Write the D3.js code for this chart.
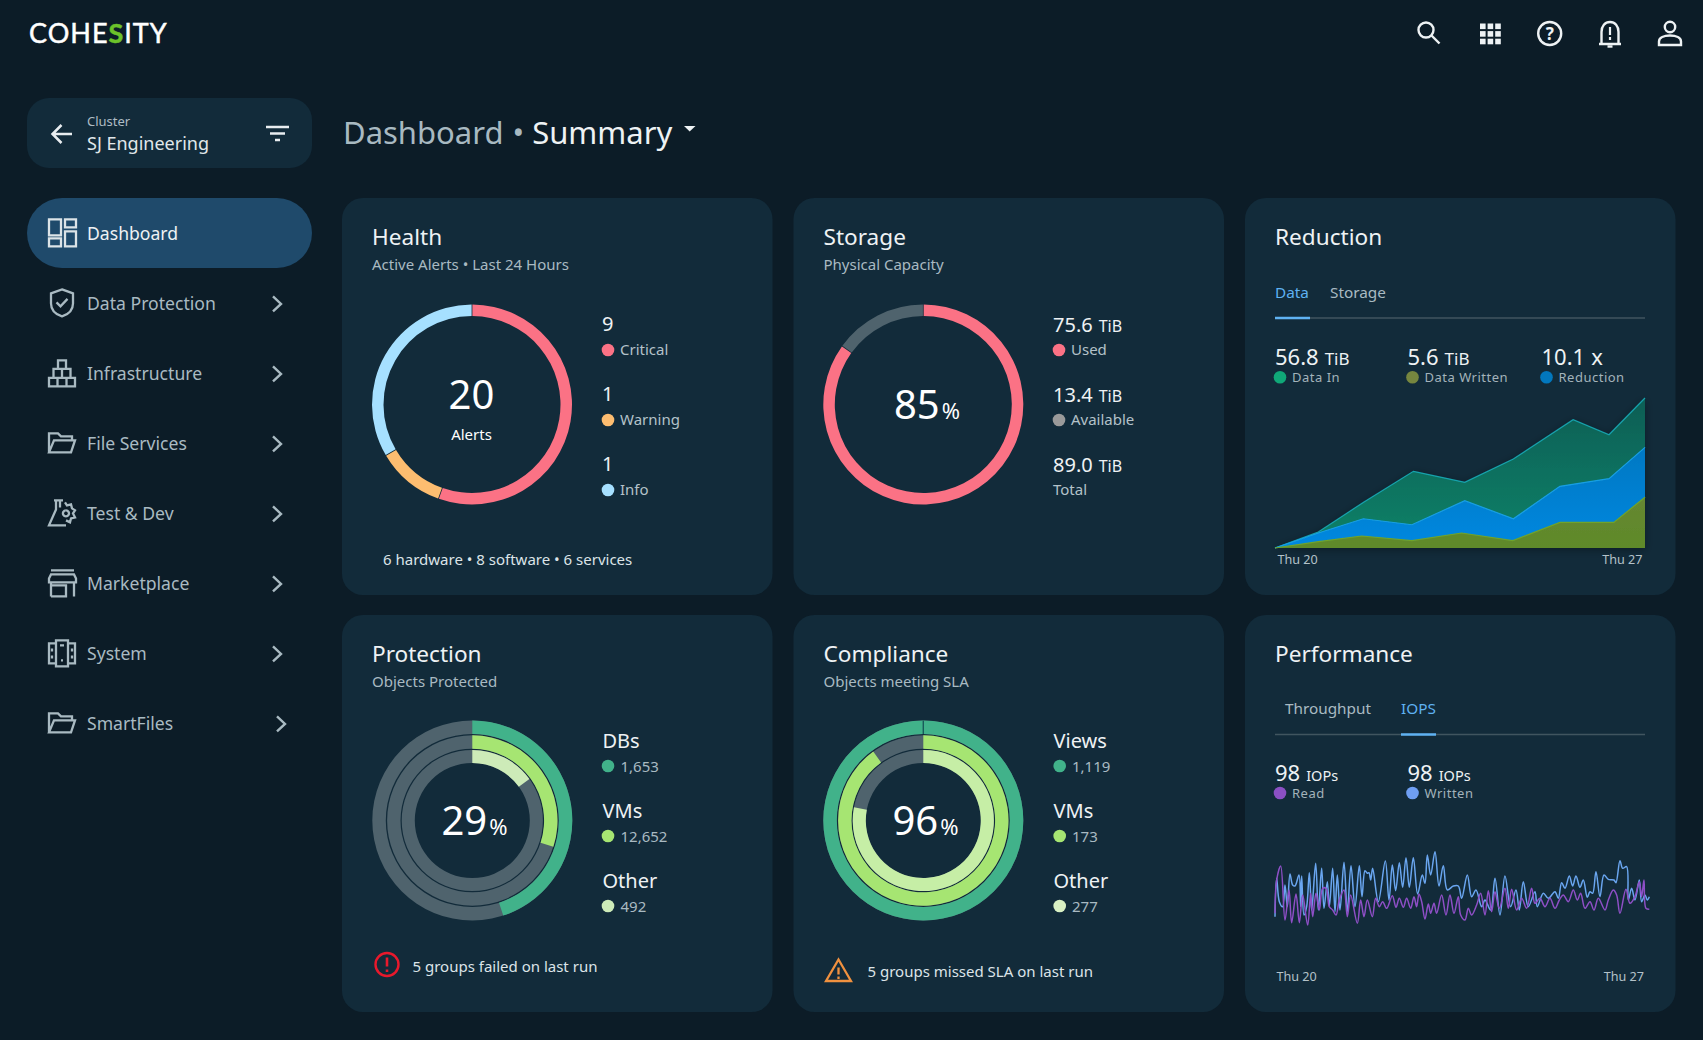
<!DOCTYPE html>
<html>
<head>
<meta charset="utf-8">
<title>Dashboard Summary</title>
<script src="https://cdn.jsdelivr.net/npm/d3@7"></script>
<style>
  html, body { margin: 0; padding: 0; background: #0c1c27; overflow: hidden; }
  text { font-family: "Noto Sans", sans-serif; }
</style>
</head>
<body>
<svg id="page" width="1703" height="1040"></svg>
<script>
// card contents
var navItems = ["Dashboard", "Data Protection", "Infrastructure", "File Services", "Test & Dev", "Marketplace", "System", "SmartFiles"]

var healthLabels = ["Critical", "Warning", "Info"]
var healthCounts = ["9", "1", "1"]
var healthShares = [55.5, 11, 33.5]

var storageLabels = ["Used", "Available", "Total"]
var storageValues = ["75.6", "13.4", "89.0"]
var storageShares = [85, 15]

var protectionLabels = ["DBs", "VMs", "Other"]
var protectionCounts = ["1,653", "12,652", "492"]
var protectionPercents = [45, 30, 15]

var complianceLabels = ["Views", "VMs", "Other"]
var complianceCounts = ["1,119", "173", "277"]
var compliancePercents = [100, 90, 78]

// reduction chart, day of week vs percent of the peak
var dataInDays = [0, 0.82, 1.67, 2.62, 3.59, 4.51, 5.64, 6.32, 7]
var dataInValues = [0, 10.7, 30.4, 51.1, 43.8, 59.3, 85.5, 75.5, 100]
var reductionDays = [0, 0.82, 1.67, 2.59, 3.59, 4.51, 5.39, 6.32, 7]
var reductionValues = [0, 10, 19.5, 15.5, 31.5, 19.5, 41.1, 46.2, 67.1]
var writtenDays = [0, 0.82, 1.64, 2.59, 3.53, 4.5, 5.39, 6.41, 7]
var writtenValues = [0, 4.2, 8, 4.9, 10, 4.9, 17.1, 17.1, 33.8]

// performance chart, sample number vs IOPs
var writtenIopsSamples = [0, 5, 13, 23, 30, 37, 45, 53, 60, 72, 77, 80, 87, 95, 103, 110, 122, 130, 140, 147, 157, 163, 173, 180, 187, 195, 207, 217, 228, 240, 253, 261, 270, 277, 282, 287, 293, 310, 331, 342, 352, 362, 373, 383, 393, 403, 415, 428, 442, 450, 457, 467, 480, 492, 505, 517, 535, 550, 560, 577, 590, 603, 620, 630, 647, 660, 675, 690, 707, 723, 733, 745, 760, 780, 787, 805, 820, 840, 850, 860, 870, 883, 893, 903, 915, 925, 937, 945, 953, 963, 975, 987, 1000, 1017, 1023, 1035, 1043, 1055, 1060, 1070, 1080, 1093, 1100, 1110, 1117, 1123]
var writtenIops = [100, 215, 145, 130, 195, 130, 228, 195, 192, 225, 130, 222, 105, 130, 232, 120, 260, 120, 245, 125, 205, 130, 245, 115, 225, 120, 263, 115, 253, 130, 253, 160, 238, 230, 232, 210, 245, 145, 267, 150, 255, 178, 262, 188, 277, 188, 277, 168, 225, 200, 285, 225, 295, 192, 253, 180, 192, 192, 155, 225, 160, 180, 130, 150, 120, 215, 105, 222, 130, 180, 120, 205, 130, 175, 130, 170, 155, 175, 155, 202, 185, 222, 192, 222, 188, 210, 158, 175, 170, 235, 160, 225, 212, 210, 202, 268, 245, 250, 150, 185, 150, 210, 145, 165, 150, 160]
var readIopsSamples = [0, 5, 17, 30, 42, 50, 63, 73, 83, 98, 107, 113, 123, 133, 143, 153, 163, 173, 183, 193, 207, 217, 227, 247, 257, 267, 277, 292, 302, 313, 323, 335, 352, 363, 373, 385, 395, 407, 417, 425, 432, 440, 450, 460, 467, 477, 485, 500, 513, 525, 537, 550, 557, 570, 580, 590, 605, 617, 630, 640, 650, 660, 673, 690, 700, 710, 725, 740, 755, 770, 780, 795, 810, 825, 840, 853, 865, 880, 895, 907, 917, 930, 945, 957, 970, 990, 1000, 1015, 1025, 1035, 1053, 1065, 1080, 1093, 1100, 1107, 1113, 1123]
var readIops = [110, 210, 252, 90, 180, 82, 168, 82, 165, 75, 170, 100, 170, 120, 185, 185, 130, 120, 105, 150, 180, 100, 165, 80, 150, 100, 150, 100, 155, 130, 145, 125, 163, 128, 155, 128, 155, 125, 160, 130, 168, 145, 93, 138, 110, 140, 110, 165, 105, 165, 110, 160, 105, 90, 125, 105, 135, 170, 105, 178, 115, 175, 125, 185, 125, 182, 120, 155, 125, 185, 140, 155, 130, 155, 125, 150, 165, 145, 180, 150, 170, 125, 145, 120, 155, 120, 150, 180, 165, 110, 182, 140, 160, 205, 160, 210, 125, 122]

var cardFill = "#122b3a"
var trackGrey = "#4f636d"
var ringGreen = "#41b28a"
var ringLime = "#a6e572"
var ringPale = "#cdebb8"

var svg = d3.select("#page")
var defs = svg.append("defs")

function addText(parent, x, y, str, size, fill, anchor){
  return parent.append("text")
    .attr("x", x)
    .attr("y", y)
    .attr("font-size", size)
    .attr("fill", fill)
    .attr("text-anchor", anchor || "start")
    .text(str)
}

function addValueUnit(parent, x, y, value, unit, size, unitSize, fill, anchor){
  var t = addText(parent, x, y, value, size, fill, anchor)
  t.append("tspan").attr("font-size", unitSize).attr("dx", unit == "%" ? 2 : 6).text(unit)
  return t
}

function addDot(parent, x, y, fill){
  parent.append("circle").attr("cx", x).attr("cy", y).attr("r", 6.3).attr("fill", fill)
}

/* ---------- header ---------- */
var logo = addText(svg, 29, 42.5, "COHE", 27, "#ffffff")
  .attr("style", "font-family:Lato;letter-spacing:1px")
  .attr("stroke", "#ffffff").attr("stroke-width", 0.5)
logo.append("tspan").attr("fill", "#6cc22a").attr("stroke", "#6cc22a").attr("font-weight", "bold").text("S")
logo.append("tspan").text("ITY")

var iconColor = "#eef2f4"
var topIcons = svg.append("g").attr("fill", "none").attr("stroke", iconColor).attr("stroke-width", 2.4)
topIcons.append("circle").attr("cx", 1426).attr("cy", 30).attr("r", 7.5)
topIcons.append("path").attr("d", "M1431.5 35.5L1439.5 43.5")

d3.range(3).forEach(function(i){
  d3.range(3).forEach(function(j){
    svg.append("rect").attr("x", 1480 + i * 7.6).attr("y", 23.5 + j * 7.6).attr("width", 5.6).attr("height", 5.6).attr("fill", iconColor)
  })
})

topIcons.append("circle").attr("cx", 1549.7).attr("cy", 33.5).attr("r", 11.5)
addText(svg, 1549.7, 40, "?", 17, iconColor, "middle").attr("font-weight", "bold")

topIcons.append("path").attr("d", "M1599 44H1621M1601.5 44V32C1601.5 26 1605 22 1610 22C1615 22 1618.5 26 1618.5 32V44")
topIcons.append("path").attr("d", "M1610 27V35M1610 37V40").attr("stroke-width", 2.2)
topIcons.append("path").attr("d", "M1607.5 46.5H1612.5")

topIcons.append("circle").attr("cx", 1670).attr("cy", 27).attr("r", 5.2)
topIcons.append("path").attr("d", "M1659 45V41.5C1659 37.5 1664 35.5 1670 35.5C1676 35.5 1681 37.5 1681 41.5V45Z")

/* ---------- cluster picker and title ---------- */
svg.append("rect").attr("x", 27).attr("y", 98).attr("width", 285).attr("height", 70).attr("rx", 22).attr("fill", cardFill)
svg.append("path").attr("d", "M72 134H53M61.5 125L52.5 134L61.5 143").attr("fill", "none").attr("stroke", "#e8edf0").attr("stroke-width", 2.5)
addText(svg, 87, 126, "Cluster", 13, "#aebcc4")
addText(svg, 87, 150, "SJ Engineering", 18, "#e0e7ea")
svg.append("path").attr("d", "M266 127H289M270 133.5H285M275 140H280").attr("fill", "none").attr("stroke", "#e8edf0").attr("stroke-width", 2.4)

var title = addText(svg, 343, 143.6, "Dashboard", 31, "#a8b9c1")
title.append("tspan").attr("dx", 9).text("•")
title.append("tspan").attr("dx", 8).attr("fill", "#eef2f4").text("Summary")
svg.append("path").attr("d", "M684 126H695.5L689.7 131.5Z").attr("fill", "#eef2f4")

/* ---------- side nav ---------- */
// icons are drawn in a 28 box, nav rows are 70 apart
var navIcons = [
  "M1 0H13V16H1ZM17 0H28V8H17ZM1 19H13V27H1ZM17 12H28V27H17Z",
  "M14 0L25 4V14C25 21 20 25 14 27C8 25 3 21 3 14V4ZM8.5 13L12.5 17L19.5 9.5",
  "M10 1H18V9.5H10ZM5.5 9.5H14V18.5H5.5ZM14 9.5H22.5V18.5H14ZM1 18.5H9.5V27H1ZM9.5 18.5H18.5V27H9.5ZM18.5 18.5H27V27H18.5Z",
  "M1 23V4H10L13 7H24V11M1 23L6 11H27L23 23Z",
  "M6 1H15M8 1V10L1 26H18M12 1V8M17 3L19 6L23 5L24 9L27 11L25 14L27 18L23 19L22 23L18 21M18 11A3 3 0 1 1 17.9 11",
  "M3 1H26M1 9L3 5H26L28 9V13H1ZM3 13V27M26 13V27M3 27H18V16H3",
  "M8 1H20V27H8ZM8 4H1V24H8M20 4H27V24H20M12 6H16M4 9V12M24 9V12M4 16V19M24 16V19M13 21H15",
  "M1 23V4H10L13 7H24V11M1 23L6 11H27L23 23Z"
]

var navY = d3.scalePoint().domain(navItems).range([233.4, 723.4])

svg.append("rect").attr("x", 27).attr("y", 198).attr("width", 285).attr("height", 70).attr("rx", 35).attr("fill", "#1f4a6b")

var nav = svg.selectAll(".nav-item")
    .data(navItems)
  .enter().append("g")
    .attr("class", "nav-item")
    .attr("transform", function(d){ return "translate(0," + navY(d) + ")" })

nav.append("path")
  .attr("d", function(d, i){ return navIcons[i] })
  .attr("transform", "translate(48,-14)")
  .attr("fill", "none")
  .attr("stroke", function(d, i){ return i == 0 ? "#dce4e8" : "#a9bac2" })
  .attr("stroke-width", 2.3)

nav.append("text")
  .attr("x", 87)
  .attr("y", 6.5)
  .attr("font-size", 17.6)
  .attr("fill", function(d, i){ return i == 0 ? "#eef2f4" : "#a9bac2" })
  .text(function(d){ return d })

nav.filter(function(d, i){ return i > 0 })
  .append("path")
  .attr("d", function(d){ return d == "SmartFiles" ? "M277 -7L285 0.5L277 8" : "M273 -7L281 0.5L273 8" })
  .attr("fill", "none")
  .attr("stroke", "#a9bac2")
  .attr("stroke-width", 2.4)

/* ---------- cards ---------- */
var cardX = [342, 793.5, 1245]
var cardY = [198, 615]

function addCard(col, row, name, sub){
  var x = cardX[col], y = cardY[row]
  svg.append("rect").attr("x", x).attr("y", y).attr("width", 430.5).attr("height", 397).attr("rx", 21).attr("fill", cardFill)
  addText(svg, x + 30, y + 46.6, name, 22.6, "#eef2f4")
  if (sub) addText(svg, x + 30, y + 71.6, sub, 15, "#a9bac2")
}

addCard(0, 0, "Health", "Active Alerts • Last 24 Hours")
addCard(1, 0, "Storage", "Physical Capacity")
addCard(2, 0, "Reduction")
addCard(0, 1, "Protection", "Objects Protected")
addCard(1, 1, "Compliance", "Objects meeting SLA")
addCard(2, 1, "Performance")

var shareAngle = d3.scaleLinear().domain([0, 100]).range([0, 2 * Math.PI])

function drawPie(cx, cy, shares, colors){
  var pie = d3.pie().sort(null).padAngle(0.006)
  var arc = d3.arc().innerRadius(88.5).outerRadius(100)
  svg.append("g")
    .attr("transform", "translate(" + cx + "," + cy + ")")
    .selectAll("path")
    .data(pie(shares))
    .enter().append("path")
    .attr("d", arc)
    .attr("fill", function(d, i){ return colors[i] })
}

var ringRadii = [[86.5, 100], [71.8, 85.2], [57.5, 70.6]]
var ringColors = [ringGreen, ringLime, ringPale]

function drawRings(cx, cy, percents, colors){
  var g = svg.append("g").attr("transform", "translate(" + cx + "," + cy + ")")
  percents.forEach(function(p, i){
    var arc = d3.arc().innerRadius(ringRadii[i][0]).outerRadius(ringRadii[i][1]).startAngle(0)
    g.append("path").attr("d", arc({endAngle: 2 * Math.PI})).attr("fill", trackGrey)
    g.append("path").attr("d", arc({endAngle: shareAngle(p)})).attr("fill", colors[i])
  })
  return g
}

/* health */
var healthColors = ["#fb7285", "#fdbd70", "#a6e0ff"]
drawPie(472, 404.5, healthShares, healthColors)
addText(svg, 471.5, 409, "20", 40, "#ffffff", "middle")
addText(svg, 471.5, 439.6, "Alerts", 15, "#ffffff", "middle")
healthLabels.forEach(function(name, i){
  addText(svg, 602, 331 + i * 70, healthCounts[i], 20, "#eef2f4")
  addDot(svg, 608, 350 + i * 70, healthColors[i])
  addText(svg, 620, 354.6 + i * 70, name, 15, "#b4c2c9")
})
addText(svg, 383, 564.6, "6 hardware • 8 software • 6 services", 15, "#dce4e8")

/* storage */
var storageColors = ["#fb7285", "#4f636d"]
drawPie(923.3, 404.5, storageShares, storageColors)
addValueUnit(svg, 927, 419, "85", "%", 40, 22, "#ffffff", "middle")
storageLabels.forEach(function(name, i){
  addValueUnit(svg, 1053, 332 + i * 70, storageValues[i], "TiB", 20, 16, "#eef2f4")
  if (i < 2) addDot(svg, 1059, 350 + i * 70, i == 0 ? "#fb7285" : "#9a9a9a")
  addText(svg, i < 2 ? 1071 : 1053, 354.6 + i * 70, name, 15, "#b4c2c9")
})

/* protection */
drawRings(472.3, 820.5, protectionPercents, ringColors)
addValueUnit(svg, 474.5, 835, "29", "%", 40, 22, "#ffffff", "middle")
protectionLabels.forEach(function(name, i){
  addText(svg, 602.5, 748 + i * 70, name, 20, "#eef2f4")
  addDot(svg, 608, 766 + i * 70, ringColors[i])
  addText(svg, 620.5, 771.5 + i * 70, protectionCounts[i], 15, "#a9bac2")
})
svg.append("circle").attr("cx", 387).attr("cy", 964.5).attr("r", 11.5).attr("fill", "none").attr("stroke", "#e8192c").attr("stroke-width", 2.4)
svg.append("path").attr("d", "M387 957.5V966.5M387 969.5V972").attr("stroke", "#e8192c").attr("stroke-width", 2.6)
addText(svg, 412.5, 971.5, "5 groups failed on last run", 15, "#dce4e8")

/* compliance */
var complianceRings = drawRings(923.3, 820.5, compliancePercents, [ringGreen, ringLime, "#c6eea6"])
complianceRings.append("path").attr("d", "M0 -100V-86.5").attr("stroke", "#1a5a5a").attr("stroke-width", 1.4)
addValueUnit(svg, 925.5, 835, "96", "%", 40, 22, "#ffffff", "middle")
complianceLabels.forEach(function(name, i){
  addText(svg, 1053.5, 748 + i * 70, name, 20, "#eef2f4")
  addDot(svg, 1059.7, 766 + i * 70, [ringGreen, ringLime, "#d9f1c4"][i])
  addText(svg, 1072, 771.5 + i * 70, complianceCounts[i], 15, "#a9bac2")
})
svg.append("path").attr("d", "M838.5 959.5L851 981H826ZM838.5 967.5V974.5M838.5 976.5V979").attr("fill", "none").attr("stroke", "#f0913f").attr("stroke-width", 2.3)
addText(svg, 867.5, 976.5, "5 groups missed SLA on last run", 15, "#dce4e8")

/* ---------- reduction chart ---------- */
function addTabs(y, names, xs, activeIndex){
  names.forEach(function(name, i){
    addText(svg, xs[i], y, name, 15.3, i == activeIndex ? "#5fb2f2" : "#a9bac2")
  })
  svg.append("line").attr("x1", 1275).attr("x2", 1645).attr("y1", y + 20.5).attr("y2", y + 20.5).attr("stroke", "#40555f").attr("stroke-width", 1.6)
  svg.append("line").attr("x1", xs[activeIndex]).attr("x2", xs[activeIndex] + 35).attr("y1", y + 20.5).attr("y2", y + 20.5).attr("stroke", "#5fb2f2").attr("stroke-width", 2.6)
}
addTabs(297.5, ["Data", "Storage"], [1275, 1330], 0)

var statNames = ["Data In", "Data Written", "Reduction"]
var statValues = ["56.8", "5.6", "10.1"]
var statUnits = ["TiB", "TiB", "x"]
var statColors = ["#10a878", "#76863f", "#0277bd"]
var statX = [1275, 1407.5, 1541.5]
statNames.forEach(function(name, i){
  addValueUnit(svg, statX[i], 365, statValues[i], statUnits[i], 22, i == 2 ? 22 : 17, "#eef2f4")
  addDot(svg, statX[i] + 5, 377.3, statColors[i])
  addText(svg, statX[i] + 17, 382.3, name, 13, "#a3b3bb").attr("letter-spacing", 0.5)
})

var reductionX = d3.scaleLinear().domain([0, 7]).range([1275, 1645])
var reductionY = d3.scaleLinear().domain([0, 100]).range([548, 398])

function addGradient(id, from, to){
  var grad = defs.append("linearGradient").attr("id", id).attr("gradientUnits", "userSpaceOnUse").attr("x1", 0).attr("x2", 0).attr("y1", 398).attr("y2", 548)
  grad.append("stop").attr("offset", 0).attr("stop-color", from)
  grad.append("stop").attr("offset", 1).attr("stop-color", to)
}
addGradient("grad-in", "#0a5e55", "#0c8268")
addGradient("grad-reduction", "#0470b4", "#0088e0")
addGradient("grad-written", "#74803f", "#5f8a2a")

var shadow = defs.append("filter").attr("id", "area-shadow").attr("x", "-5%").attr("y", "-5%").attr("width", "110%").attr("height", "115%")
shadow.append("feDropShadow").attr("dx", 0).attr("dy", 2).attr("stdDeviation", 4).attr("flood-color", "#000000").attr("flood-opacity", 0.35)

var reductionSeries = [
  {days: dataInDays, values: dataInValues, fill: "url(#grad-in)", stroke: "#17a3ad"},
  {days: reductionDays, values: reductionValues, fill: "url(#grad-reduction)", stroke: "#189fe3"},
  {days: writtenDays, values: writtenValues, fill: "url(#grad-written)", stroke: "#70a32a"}
]

var areaGroup = svg.append("g").attr("filter", "url(#area-shadow)")
reductionSeries.forEach(function(s){
  var points = s.days.map(function(day, i){ return [day, s.values[i]] })
  var area = d3.area().x(function(d){ return reductionX(d[0]) }).y0(reductionY(0)).y1(function(d){ return reductionY(d[1]) })
  var line = d3.line().x(function(d){ return reductionX(d[0]) }).y(function(d){ return reductionY(d[1]) })
  areaGroup.append("path").attr("d", area(points)).attr("fill", s.fill)
  areaGroup.append("path").attr("d", line(points)).attr("fill", "none").attr("stroke", s.stroke).attr("stroke-width", 1.2)
})
addText(svg, 1277.5, 564, "Thu 20", 12.6, "#b4c2c9")
addText(svg, 1642.5, 564, "Thu 27", 12.6, "#b4c2c9", "end")

/* ---------- performance chart ---------- */
addTabs(714, ["Throughput", "IOPS"], [1285, 1401], 1)

var perfNames = ["Read", "Written"]
var perfColors = ["#8b50c4", "#6f9ff2"]
var perfX = [1275, 1407.5]
perfNames.forEach(function(name, i){
  addValueUnit(svg, perfX[i], 781, "98", "IOPs", 22, 14.5, "#eef2f4")
  addDot(svg, perfX[i] + 5, 793, perfColors[i])
  addText(svg, perfX[i] + 17, 798, name, 13, "#a3b3bb").attr("letter-spacing", 0.5)
})

var perfTime = d3.scaleLinear().domain([0, 1123]).range([1275, 1649.3])
var perfY = d3.scaleLinear().domain([0, 300]).range([950, 850])
var perfLine = d3.line()
  .x(function(d){ return perfTime(d[0]) })
  .y(function(d){ return perfY(d[1]) })
  .curve(d3.curveCatmullRom.alpha(0.5))

svg.append("path")
  .attr("d", perfLine(writtenIopsSamples.map(function(s, i){ return [s, writtenIops[i]] })))
  .attr("fill", "none").attr("stroke", "#6aa6f0").attr("stroke-width", 1.5)
svg.append("path")
  .attr("d", perfLine(readIopsSamples.map(function(s, i){ return [s, readIops[i]] })))
  .attr("fill", "none").attr("stroke", "#8e4fc6").attr("stroke-width", 1.5)

addText(svg, 1276.5, 980.5, "Thu 20", 12.6, "#b4c2c9")
addText(svg, 1644, 980.5, "Thu 27", 12.6, "#b4c2c9", "end")
</script>
</body>
</html>
